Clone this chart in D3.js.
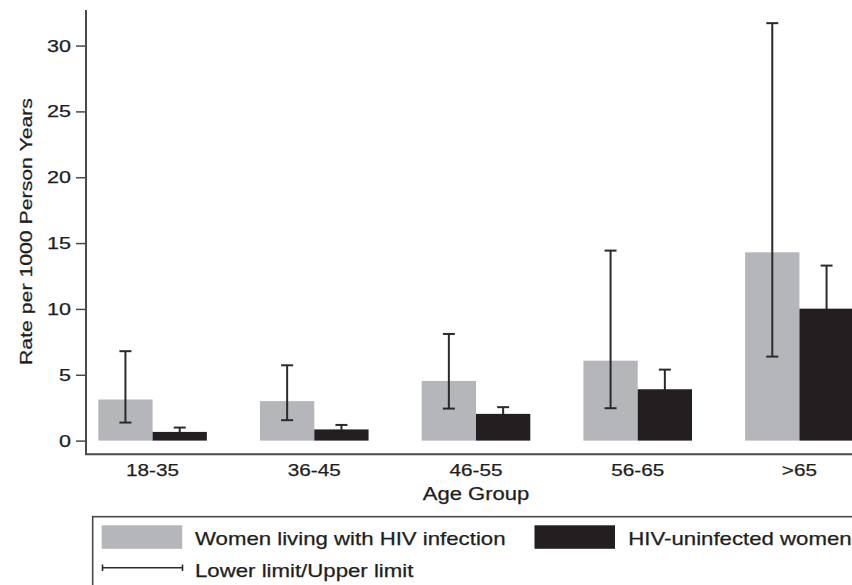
<!DOCTYPE html>
<html>
<head>
<meta charset="utf-8">
<script src="https://cdn.jsdelivr.net/npm/d3@7"></script>
<style>
  body { margin: 0; background: #fff; }
  svg { display: block; }
  text { font-family: "Liberation Sans", Arial, Helvetica, sans-serif; fill: #1e1e1e; stroke: #1e1e1e; stroke-width: 0.25px; }
</style>
</head>
<body>
<svg id="chart" width="852" height="585"></svg>
<script>
// data
const ageGroups = ["18-35", "36-45", "46-55", "56-65", ">65"];
const series = ["hiv", "uninfected"];
const seriesLabels = ["Women living with HIV infection", "HIV-uninfected women"];

const hivRate = [3.12, 3.0, 4.53, 6.07, 14.3];
const hivLower = [1.37, 1.55, 2.43, 2.46, 6.38];
const hivUpper = [6.79, 5.72, 8.1, 14.43, 31.7];

const uninfRate = [0.66, 0.85, 2.03, 3.9, 10.02];
const uninfLower = [0.35, 0.5, 1.5, 2.6, 7.3];
const uninfUpper = [0.99, 1.19, 2.54, 5.39, 13.29];

const yTicks = [0, 5, 10, 15, 20, 25, 30];

const colors = { hiv: "#b5b6ba", uninfected: "#231f20" };
const axisColor = "#4a4a4a";

const svg = d3.select("#chart");

// plot frame
const plotLeft = 86, plotTop = 10, plotBottom = 454.3, plotRight = 866;

const x = d3.scaleBand()
  .domain(ageGroups)
  .range([plotLeft, plotRight])
  .paddingInner(0.3286)
  .paddingOuter(0.076);

const xSub = d3.scaleBand()
  .domain(series)
  .range([0, x.bandwidth()]);

const y = d3.scaleLinear()
  .domain([-1.04, 32.7])
  .range([plotBottom, plotTop]);

const rows = ageGroups.map((g, i) => ({
  group: g,
  vals: [
    { key: "hiv", v: hivRate[i], lo: hivLower[i], hi: hivUpper[i] },
    { key: "uninfected", v: uninfRate[i], lo: uninfLower[i], hi: uninfUpper[i] },
  ],
}));

// stretch text horizontally, the source figure is wider than the font
function stretch(sel, k) {
  sel.each(function () {
    const w = this.getComputedTextLength();
    d3.select(this).attr("textLength", w * k).attr("lengthAdjust", "spacingAndGlyphs");
  });
}

const cap = 6;
function errorBars(layer, key) {
  const err = layer.selectAll("g")
    .data(rows.map((r) => ({ group: r.group, ...r.vals.find((v) => v.key == key) })))
    .join("g")
    .attr("transform", (d) => `translate(${x(d.group) + xSub(key) + xSub.bandwidth() / 2},0)`)
    .attr("stroke", "#2a2a2a")
    .attr("stroke-width", 2);

  err.append("line")
    .attr("y1", (d) => y(d.lo))
    .attr("y2", (d) => y(d.hi));
  err.append("line")
    .attr("x1", -cap).attr("x2", cap)
    .attr("y1", (d) => y(d.hi)).attr("y2", (d) => y(d.hi));
  err.append("line")
    .attr("x1", -cap).attr("x2", cap)
    .attr("y1", (d) => y(d.lo)).attr("y2", (d) => y(d.lo));
}

// black bars hide the lower half of their whiskers, grey ones don't
errorBars(svg.append("g"), "uninfected");

const groups = svg.append("g")
  .selectAll("g")
  .data(rows)
  .join("g")
  .attr("transform", (d) => `translate(${x(d.group)},0)`);

groups.selectAll("rect")
  .data((d) => d.vals)
  .join("rect")
  .attr("x", (d) => xSub(d.key))
  .attr("width", xSub.bandwidth())
  .attr("y", (d) => y(d.v))
  .attr("height", (d) => y(0) - y(d.v))
  .attr("fill", (d) => colors[d.key]);

errorBars(svg.append("g"), "hiv");

// y axis
const yAxis = svg.append("g")
  .attr("transform", `translate(${plotLeft},0)`)
  .call(d3.axisLeft(y).tickValues(yTicks).tickSize(10).tickPadding(5));
yAxis.select(".domain").remove();
yAxis.selectAll(".tick line").attr("stroke", axisColor).attr("stroke-width", 1.5);
yAxis.selectAll(".tick text")
  .attr("font-size", 17)
  .attr("fill", "#1e1e1e")
  .call(stretch, 1.27);

svg.append("line")
  .attr("x1", plotLeft).attr("x2", plotLeft)
  .attr("y1", plotTop).attr("y2", plotBottom)
  .attr("stroke", axisColor).attr("stroke-width", 2);

// x axis
svg.append("line")
  .attr("x1", plotLeft - 1).attr("x2", 852)
  .attr("y1", plotBottom).attr("y2", plotBottom)
  .attr("stroke", axisColor).attr("stroke-width", 2);

svg.append("g")
  .selectAll("text")
  .data(ageGroups)
  .join("text")
  .attr("x", (d) => x(d) + x.bandwidth() / 2)
  .attr("y", 476)
  .attr("text-anchor", "middle")
  .attr("font-size", 17)
  .text((d) => d)
  .call(stretch, 1.22);

svg.append("text")
  .attr("x", x("46-55") + x.bandwidth() / 2)
  .attr("y", 499.5)
  .attr("text-anchor", "middle")
  .attr("font-size", 17.5)
  .text("Age Group")
  .call(stretch, 1.26);

svg.append("text")
  .attr("transform", "translate(32,231.5) rotate(-90)")
  .attr("text-anchor", "middle")
  .attr("font-size", 16.5)
  .attr("textLength", 267)
  .attr("lengthAdjust", "spacingAndGlyphs")
  .text("Rate per 1000 Person Years");

// legend
const legend = svg.append("g");
legend.append("rect")
  .attr("x", 92.7).attr("y", 516.7)
  .attr("width", 800).attr("height", 100)
  .attr("fill", "none")
  .attr("stroke", axisColor).attr("stroke-width", 1.6);

const swatchX = [101.7, 534.5];
const textX = [195, 628.3];
series.forEach((s, i) => {
  legend.append("rect")
    .attr("x", swatchX[i]).attr("y", 525.3)
    .attr("width", 80.5).attr("height", 23.5)
    .attr("fill", colors[s]);
  legend.append("text")
    .attr("x", textX[i]).attr("y", 544.5)
    .attr("font-size", 18.5)
    .text(seriesLabels[i])
    .call(stretch, 1.2);
});

const ci = legend.append("g").attr("stroke", "#2a2a2a").attr("stroke-width", 1.6);
ci.append("line").attr("x1", 102).attr("x2", 183).attr("y1", 567.7).attr("y2", 567.7);
ci.append("line").attr("x1", 102.5).attr("x2", 102.5).attr("y1", 564.5).attr("y2", 571);
ci.append("line").attr("x1", 182.5).attr("x2", 182.5).attr("y1", 564.5).attr("y2", 571);

legend.append("text")
  .attr("x", 195).attr("y", 577)
  .attr("font-size", 18.5)
  .text("Lower limit/Upper limit")
  .call(stretch, 1.2);
</script>
</body>
</html>
